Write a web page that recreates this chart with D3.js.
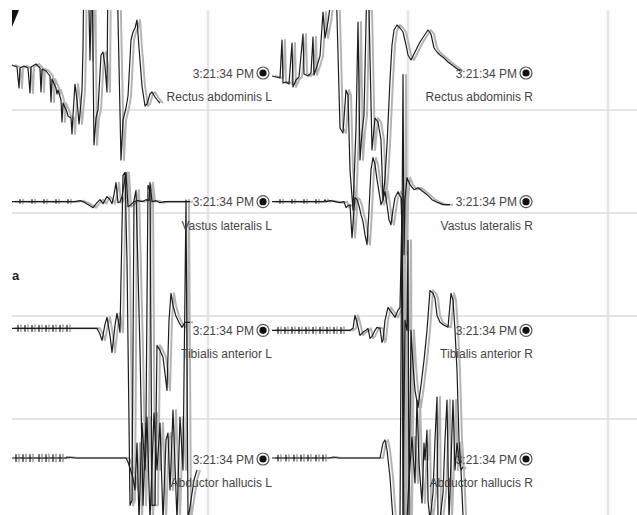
<!DOCTYPE html>
<html>
<head>
<meta charset="utf-8">
<script src="https://cdn.jsdelivr.net/npm/d3@7"></script>
<style>
  html, body { margin: 0; padding: 0; background: #fff; }
  svg { display: block; }
  text { font-family: "Liberation Sans", Arial, sans-serif; }
</style>
</head>
<body>
<svg id="chart" width="637" height="515"></svg>
<script>
// Channels shown, top to bottom
const muscles = ["Rectus abdominis", "Vastus lateralis", "Tibialis anterior", "Abductor hallucis"];
const sides = ["L", "R"];
const stampLabel = "3:21:34 PM";

// Time grid (ms) and amplitude grid divisions
const timeTicks = [200, 400, 600];
const gridDivisions = [1, 2, 3, 4];

// EMG samples: [time ms, amplitude µV]
const rectusL = [[4,80],[9,60],[11,-150],[12,50],[16,70],[20,50],[22,-200],[23,60],[28,90],[32,50],[33,-190],[34,40],[38,20],[42,-30],[43,-290],[44,-60],[48,-150],[49,-210],[50,-170],[53,-270],[54,-490],[55,-300],[59,-390],[60,-430],[63,-450],[64,-610],[65,-420],[67,-110],[69,-270],[71,-510],[73,-290],[74,-170],[75,250],[76,1130],[80,1130],[82,130],[84,1130],[86,-720],[88,-450],[90,-370],[93,180],[95,210],[97,70],[99,-190],[100,1130],[102,1130],[105,1130],[109,1030],[113,-870],[115,-470],[118,-350],[120,-230],[123,330],[125,410],[127,450],[129,530],[131,250],[134,-130],[137,-330],[139,-310],[142,-210],[144,-190],[147,-240],[150,-280],[152,-300]];

const rectusR = [[264,-30],[268,-40],[272,-50],[274,330],[275,-100],[278,-90],[281,-110],[284,300],[285,-140],[288,-70],[291,-40],[295,390],[296,-10],[300,-30],[303,0],[305,360],[306,-20],[309,70],[312,170],[315,610],[317,350],[320,510],[323,730],[328,930],[332,-550],[335,-600],[338,-170],[340,-220],[342,-970],[345,-1370],[348,-550],[350,510],[352,-870],[354,-590],[356,-420],[359,930],[361,630],[364,-770],[367,-450],[370,-490],[373,-670],[375,-1270],[377,-1050],[379,-720],[382,-70],[384,280],[386,430],[389,480],[392,450],[395,410],[398,280],[400,180],[403,130],[406,190],[409,250],[412,310],[416,370],[420,430],[423,390],[426,250],[429,210],[432,180],[436,150],[440,110],[444,80],[448,50],[452,20]];

const vastusL = [[4,0],[12,0],[12,20],[12,-15],[12,0],[24,0],[24,20],[24,-15],[24,0],[36,0],[36,20],[36,-15],[36,0],[48,0],[48,20],[48,-15],[48,0],[60,0],[60,20],[60,-15],[60,0],[67,0],[72,10],[77,-10],[82,-40],[85,-60],[89,-10],[92,20],[95,-20],[99,50],[102,20],[104,-20],[106,70],[108,190],[110,-10],[112,0],[114,50],[116,170],[118,290],[120,-50],[123,-30],[126,0],[130,10],[134,0],[138,20],[141,10],[142,190],[144,0],[148,10],[152,-10],[157,0],[162,0],[170,0],[177,0],[182,0]];

const vastusR = [[264,0],[272,0],[272,20],[272,-15],[272,0],[284,0],[284,20],[284,-15],[284,0],[296,0],[296,20],[296,-15],[296,0],[308,0],[308,20],[308,-15],[308,0],[316,0],[317,20],[318,0],[322,10],[327,0],[332,-10],[336,0],[338,-60],[340,-40],[342,-30],[344,-360],[346,-80],[347,40],[349,20],[351,-40],[353,-130],[355,-200],[357,-330],[359,-430],[361,-80],[363,320],[365,440],[367,370],[369,220],[371,100],[373,-30],[375,20],[377,100],[379,-30],[381,-180],[383,-230],[385,-80],[387,40],[390,100],[393,40],[394,-280],[395,1270],[396,-530],[397,20],[399,240],[402,170],[406,120],[410,140],[414,110],[419,70],[424,20],[430,-10],[435,-30],[442,-30]];

const tibialisL = [[4,20],[10,20],[10,50],[10,-10],[10,20],[17,20],[17,50],[17,-10],[17,20],[24,20],[24,50],[24,-10],[24,20],[31,20],[31,50],[31,-10],[31,20],[38,20],[38,50],[38,-10],[38,20],[45,20],[45,50],[45,-10],[45,20],[52,20],[52,50],[52,-10],[52,20],[59,20],[59,50],[59,-10],[59,20],[67,20],[77,20],[89,20],[92,-40],[94,-100],[97,60],[99,130],[102,-50],[104,-220],[107,50],[109,170],[111,50],[112,-20],[115,1550],[117,1580],[119,700],[122,-1750],[124,-1700],[126,1300],[128,1400],[132,-200],[135,-1750],[138,-900],[140,1450],[142,1400],[144,-1750],[147,-1750],[149,-150],[152,-200],[155,-270],[157,-430],[159,-600],[161,100],[163,370],[165,250],[168,140],[171,80],[174,30],[177,80],[182,80]];

const tibialisR = [[264,0],[270,0],[270,30],[270,-30],[270,0],[277,0],[277,30],[277,-30],[277,0],[284,0],[284,30],[284,-30],[284,0],[291,0],[291,30],[291,-30],[291,0],[298,0],[298,30],[298,-30],[298,0],[305,0],[305,30],[305,-30],[305,0],[312,0],[312,30],[312,-30],[312,0],[319,0],[319,30],[319,-30],[319,0],[326,0],[326,30],[326,-30],[326,0],[333,0],[333,30],[333,-30],[333,0],[342,0],[345,20],[347,150],[349,80],[352,-50],[355,-20],[358,0],[360,20],[362,-80],[364,-60],[367,0],[369,30],[372,20],[374,-120],[375,-100],[377,100],[380,230],[382,200],[385,160],[387,130],[390,200],[392,230],[394,1200],[395,-1850],[397,100],[399,0],[400,900],[401,-1850],[403,0],[405,-350],[407,-600],[410,-770],[413,-550],[416,-300],[419,0],[422,400],[425,370],[427,320],[429,150],[432,80],[436,50],[440,30],[443,370],[445,300],[447,0],[449,-400],[451,-1100],[453,-1400],[455,-1850]];

const abductorL = [[4,10],[8,10],[8,45],[8,-25],[8,10],[15,10],[15,45],[15,-25],[15,10],[22,10],[22,45],[22,-25],[22,10],[31,10],[31,45],[31,-25],[31,10],[38,10],[38,45],[38,-25],[38,10],[45,10],[45,45],[45,-25],[45,10],[52,10],[52,45],[52,-25],[52,10],[58,10],[59,20],[67,10],[82,10],[102,10],[112,10],[118,10],[120,-30],[122,-90],[125,-190],[127,-310],[129,160],[131,-610],[134,360],[137,-110],[139,420],[142,-610],[146,460],[149,-110],[152,360],[155,-610],[158,190],[160,260],[162,-310],[165,490],[169,-610],[172,420],[175,-110],[178,2590],[180,-610],[183,-410],[186,-210],[189,-110]];

const abductorR = [[264,10],[270,10],[270,40],[270,-20],[270,10],[278,10],[278,40],[278,-20],[278,10],[286,10],[286,40],[286,-20],[286,10],[293,10],[293,40],[293,-20],[293,10],[300,10],[300,40],[300,-20],[300,10],[308,10],[308,40],[308,-20],[308,10],[315,10],[315,40],[315,-20],[315,10],[322,10],[325,20],[330,10],[340,10],[350,10],[360,10],[372,10],[375,160],[377,190],[379,90],[382,-180],[385,-610],[390,-610],[392,-610],[394,2590],[396,-610],[399,-610],[401,-210],[404,220],[407,-240],[409,590],[411,-40],[412,-180],[414,-440],[416,160],[417,-10],[419,290],[420,-410],[422,-610],[425,-340],[427,190],[429,620],[430,-610],[432,-610],[435,-340],[437,190],[439,590],[441,-610],[442,-340],[445,590],[447,-110],[449,160],[451,-10],[453,-110],[455,-80]];

const traces = [
  { muscle: muscles[0], side: "L", data: rectusL },
  { muscle: muscles[0], side: "R", data: rectusR },
  { muscle: muscles[1], side: "L", data: vastusL },
  { muscle: muscles[1], side: "R", data: vastusR },
  { muscle: muscles[2], side: "L", data: tibialisL },
  { muscle: muscles[2], side: "R", data: tibialisR },
  { muscle: muscles[3], side: "L", data: abductorL },
  { muscle: muscles[3], side: "R", data: abductorR }
];

const plot = { left: 12, top: 10, right: 637, bottom: 515 };
const svg = d3.select("#chart");

const x = d3.scaleLinear().domain([0, 629]).range([8, 637]);
const grid = d3.scaleLinear().domain([0, 5]).range([7, 522]);
const row = d3.scalePoint().domain(muscles).range([73, 459]);
const amp = d3.scaleLinear().domain([-1000, 1000]).range([100, -100]);

// cursor positions (ms) of the time stamp marker and right edge of the channel name
const cursorTime = { L: 255, R: 518 };
const nameEnd = { L: 264, R: 525 };

svg.append("defs").append("clipPath").attr("id", "plotClip")
  .append("rect")
  .attr("x", plot.left).attr("y", plot.top)
  .attr("width", plot.right - plot.left).attr("height", plot.bottom - plot.top);

// grid
const g = svg.append("g").attr("clip-path", "url(#plotClip)");
g.selectAll("line.vgrid").data(timeTicks).join("line")
  .attr("class", "vgrid")
  .attr("x1", d => x(d)).attr("x2", d => x(d))
  .attr("y1", plot.top).attr("y2", plot.bottom)
  .attr("stroke", "#e6e6e6").attr("stroke-width", 2.5);
g.selectAll("line.hgrid").data(gridDivisions).join("line")
  .attr("class", "hgrid")
  .attr("x1", plot.left).attr("x2", plot.right)
  .attr("y1", d => grid(d)).attr("y2", d => grid(d))
  .attr("stroke", "#dcdcdc").attr("stroke-width", 1.5);

// traces: light echo behind the dark signal line
const lineFor = m => d3.line()
  .x(d => x(d[0]))
  .y(d => row(m) + amp(d[1]));

const traceG = svg.append("g").attr("clip-path", "url(#plotClip)");
traceG.selectAll("path.echo").data(traces).join("path")
  .attr("class", "echo")
  .attr("d", t => lineFor(t.muscle)(t.data))
  .attr("transform", "translate(3,0)")
  .attr("fill", "none").attr("stroke", "#b4b4b4").attr("stroke-width", 2)
  .attr("stroke-linejoin", "round");
traceG.selectAll("path.sig").data(traces).join("path")
  .attr("class", "sig")
  .attr("d", t => lineFor(t.muscle)(t.data))
  .attr("fill", "none").attr("stroke", "#1c1c1c").attr("stroke-width", 1.2)
  .attr("stroke-linejoin", "round");

// labels and cursor markers
const labels = [];
muscles.forEach(m => sides.forEach(s => labels.push({ muscle: m, side: s })));
const lg = svg.append("g");
lg.selectAll("text.stamp").data(labels).join("text")
  .attr("class", "stamp")
  .attr("x", d => x(cursorTime[d.side]) - 9)
  .attr("y", d => row(d.muscle) + 4.5)
  .attr("text-anchor", "end")
  .attr("font-size", 12).attr("fill", "#444")
  .text(stampLabel);
lg.selectAll("text.name").data(labels).join("text")
  .attr("class", "name")
  .attr("x", d => x(nameEnd[d.side]))
  .attr("y", d => row(d.muscle) + 28)
  .attr("text-anchor", "end")
  .attr("font-size", 12).attr("fill", "#444")
  .text(d => d.muscle + " " + d.side);
lg.selectAll("circle.ring").data(labels).join("circle")
  .attr("class", "ring")
  .attr("cx", d => x(cursorTime[d.side])).attr("cy", d => row(d.muscle))
  .attr("r", 6).attr("fill", "#fff").attr("stroke", "#555").attr("stroke-width", 1.2);
lg.selectAll("circle.dot").data(labels).join("circle")
  .attr("class", "dot")
  .attr("cx", d => x(cursorTime[d.side])).attr("cy", d => row(d.muscle))
  .attr("r", 3.6).attr("fill", "#111");

// corner notch and side marker of the panel
svg.append("path")
  .attr("d", d3.line()([[plot.left, plot.top], [plot.left + 7, plot.top], [plot.left, plot.top + 17]]) + "Z")
  .attr("fill", "#111");
svg.append("text")
  .attr("x", plot.left).attr("y", 280)
  .attr("font-size", 13).attr("font-weight", "bold").attr("fill", "#222")
  .text("a");
</script>
</body>
</html>
